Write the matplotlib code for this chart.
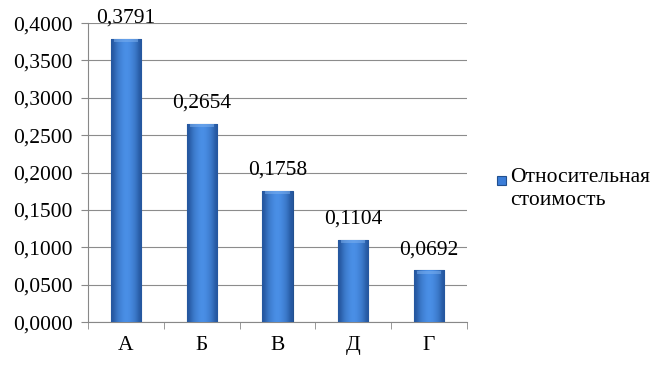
import numpy as np
import matplotlib.pyplot as plt
from matplotlib.patches import Rectangle
from matplotlib.colors import LinearSegmentedColormap

categories = ['А', 'Б', 'В', 'Д', 'Г']
values = [0.3791, 0.2654, 0.1758, 0.1104, 0.0692]
series_name = 'Относительная\nстоимость'

plt.rcParams['font.family'] = ['Liberation Serif', 'DejaVu Serif']
fs = 15.5

fig = plt.figure(figsize=(6.67, 3.72), dpi=100)
ax = fig.add_axes([0.132, 0.134, 0.568, 0.804])

x = np.arange(len(categories))
bars = ax.bar(x, values, width=0.4, color='#3B7DD8', edgecolor='#22508F', linewidth=0.8, zorder=3)

# horizontal bevel-like gradient on each bar
grad = np.array([[0.0, 0.55, 0.8, 1.0, 1.0, 0.8, 0.55, 0.0]])
cmap = LinearSegmentedColormap.from_list('bar', ['#24569E', '#4A8FE6'])
for b in bars:
    x0, w, h = b.get_x(), b.get_width(), b.get_height()
    im = ax.imshow(grad, cmap=cmap, extent=(x0, x0 + w, 0, h), aspect='auto',
                   interpolation='bicubic', zorder=3.5)
    im.set_clip_path(b)
    # top highlight
    ax.add_patch(Rectangle((x0 + w * 0.1, h - 0.005), w * 0.8, 0.004,
                           color='#7FB2F0', alpha=0.5, lw=0, zorder=4))

for xi, v in zip(x, values):
    ax.annotate(f'{v:.4f}'.replace('.', ','), (xi, v), xytext=(0, 8), textcoords='offset points',
                ha='center', va='bottom', fontsize=fs)

ax.set_xlim(-0.5, len(categories) - 0.5)
ax.set_ylim(0, 0.4)
yt = np.arange(0, 0.4001, 0.05)
ax.set_yticks(yt)
ax.set_yticklabels([f'{t:.4f}'.replace('.', ',') for t in yt], fontsize=fs)
ax.set_xticks(x)
ax.set_xticklabels(categories, fontsize=fs)
ax.set_xticks(np.arange(-0.5, len(categories)), minor=True)
ax.tick_params(axis='x', which='major', length=0, pad=10)
ax.tick_params(axis='x', which='minor', length=5, color='#888888')
ax.tick_params(axis='y', length=5, color='#888888', pad=6)
ax.yaxis.grid(True, color='#8c8c8c', linewidth=0.8, zorder=0)
ax.set_axisbelow(True)
for s in ['top', 'right']:
    ax.spines[s].set_visible(False)
for s in ['left', 'bottom']:
    ax.spines[s].set_color('#888888')

# legend
fig.patches.append(Rectangle((0.745, 0.502), 0.013, 0.024, transform=fig.transFigure,
                             facecolor='#3B7DD8', edgecolor='#22508F', lw=0.8))
fig.text(0.765, 0.548, series_name, fontsize=fs, va='top', ha='left', linespacing=1.25)

fig.savefig('out.png', dpi=100)
